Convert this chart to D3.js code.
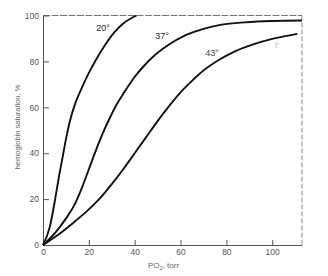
<!DOCTYPE html>
<html><head><meta charset="utf-8">
<script src="https://cdn.jsdelivr.net/npm/d3@7"></script>
<style>body{margin:0;background:#fff}svg{display:block}</style>
</head><body>
<svg id="c" width="328" height="276"></svg>
<script>
const xTicks = [0, 20, 40, 60, 80, 100];
const yTicks = [0, 20, 40, 60, 80, 100];

const po2_20 = [0, 3, 5.3, 7, 8.5, 10, 12, 14, 16.5, 19.5, 23, 27, 31, 35, 40.8];
const sat_20 = [0, 8, 20, 30, 38, 46, 55, 61.5, 67.5, 74, 80.5, 87, 92.5, 96.5, 100];

const po2_37 = [0, 5, 10, 14, 17, 20, 23, 26, 29, 32, 35.4, 39.8, 44, 48, 54.5, 62, 70, 78, 88, 100, 113];
const sat_37 = [0, 5, 11.5, 18, 25, 33, 41, 48.5, 55, 61, 66.5, 73, 78, 82, 87, 91.3, 94.2, 96, 97, 97.6, 97.8];

const po2_43 = [0, 6, 13, 20, 25, 30, 35, 40, 45, 50, 55, 60, 65, 70, 76.5, 84, 92, 100, 111];
const sat_43 = [0, 4, 9.5, 15.5, 20.5, 26.5, 33, 40, 47, 54, 60.5, 66.5, 71.5, 76, 80.5, 84.5, 87.5, 89.8, 92];

const series = [
  {name: "20°", po2: po2_20, sat: sat_20},
  {name: "37°", po2: po2_37, sat: sat_37},
  {name: "43°", po2: po2_43, sat: sat_43}
];

const svg = d3.select("#c");
const x = d3.scaleLinear().domain([0, 113]).range([43, 302]);
const y = d3.scaleLinear().domain([0, 100]).range([245, 15.5]);

svg.append("line").attr("x1", x(0)).attr("x2", x(113)).attr("y1", y(100)).attr("y2", y(100))
  .attr("stroke", "#777").attr("stroke-width", 1).attr("stroke-dasharray", "7,1.5");
svg.append("line").attr("x1", x(113)).attr("x2", x(113)).attr("y1", y(100)).attr("y2", y(0))
  .attr("stroke", "#888").attr("stroke-width", 1).attr("stroke-dasharray", "5,2");

const font = "'Liberation Sans', Arial, sans-serif";

const gx = svg.append("g").attr("transform", `translate(0,${y(0)})`)
  .call(d3.axisBottom(x).tickValues(xTicks).tickSizeInner(-5).tickSizeOuter(0).tickPadding(4));
const gy = svg.append("g").attr("transform", `translate(${x(0)},0)`)
  .call(d3.axisLeft(y).tickValues(yTicks).tickSizeInner(-6).tickSizeOuter(0).tickPadding(4));
[gx, gy].forEach(g => {
  g.select(".domain").attr("stroke", "#555").attr("stroke-width", 1);
  g.selectAll(".tick line").attr("stroke", "#555");
  g.selectAll("text").attr("font-family", font).attr("font-size", 8.5).attr("fill", "#555");
});

const line = d3.line().x(d => x(d[0])).y(d => y(d[1])).curve(d3.curveMonotoneX);
series.forEach(s => {
  const pts = s.po2.map((p, i) => [p, s.sat[i]]);
  svg.append("path").attr("d", line(pts)).attr("fill", "none")
    .attr("stroke", "#111").attr("stroke-width", 1.9);
});

svg.append("text").attr("x", 103).attr("y", 31).attr("text-anchor", "middle")
  .attr("font-family", font).attr("font-size", 9).attr("fill", "#222").text("20°");
svg.append("text").attr("x", 162).attr("y", 39).attr("text-anchor", "middle")
  .attr("font-family", font).attr("font-size", 9).attr("fill", "#222").text("37°");
svg.append("text").attr("x", 212).attr("y", 56).attr("text-anchor", "middle")
  .attr("font-family", font).attr("font-size", 9).attr("fill", "#444").text("43°");
svg.append("text").attr("x", 277).attr("y", 48).attr("text-anchor", "middle")
  .attr("font-family", font).attr("font-size", 8).attr("fill", "#bbb").text("ℓ'");

const xt = svg.append("text").attr("x", 148).attr("y", 268)
  .attr("font-family", font).attr("font-size", 8).attr("fill", "#666");
xt.append("tspan").text("PO");
xt.append("tspan").attr("font-size", 5.5).attr("dy", 2).text("2");
xt.append("tspan").attr("dy", -2).text(", torr");

svg.append("text").attr("transform", "translate(20,127) rotate(-90)")
  .attr("text-anchor", "middle").attr("font-family", font).attr("font-size", 7.5)
  .attr("fill", "#666").text("hemoglobin saturation, %");
</script>
</body></html>
